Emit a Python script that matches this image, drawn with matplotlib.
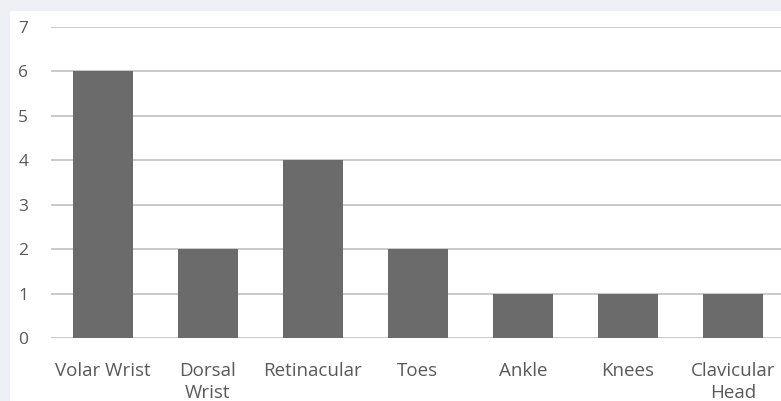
import matplotlib
matplotlib.use("Agg")
import matplotlib.pyplot as plt

categories = ["Volar Wrist", "Dorsal\nWrist", "Retinacular", "Toes", "Ankle", "Knees", "Clavicular\nHead"]
values = [6, 2, 4, 2, 1, 1, 1]
yticks = [0, 1, 2, 3, 4, 5, 6, 7]

W, H = 781, 401
fig = plt.figure(figsize=(W/100, H/100), dpi=100, facecolor="#eef0f6")
bg = fig.add_axes([10/W, 0, 1 - 10/W, 1 - 11/H], zorder=-5)
bg.set_axis_off()
bg.add_patch(plt.Rectangle((0, 0), 1, 1, transform=bg.transAxes, color="white"))

ax = fig.add_axes([50.5/W, (H-338)/H, 1 - 50.5/W, (338-27)/H])
ax.set_facecolor("none")
x = range(len(categories))
ax.bar(x, values, width=0.57, color="#6b6b6b", zorder=3)
ax.set_xlim(-0.5, 6.46)
ax.set_ylim(0, 7)
ax.set_yticks(yticks)
ax.yaxis.grid(True, color="#c9c9c9", linewidth=1.4)
ax.set_axisbelow(True)
for s in ax.spines.values():
    s.set_visible(False)
ax.set_xticks(list(x))
ax.set_xticklabels(categories, linespacing=1.3)
ax.tick_params(axis="both", length=0, colors="#595959")
ax.tick_params(axis="y", pad=16, labelsize=12.5)
ax.tick_params(axis="x", pad=17, labelsize=13.5)
for lbl in ax.get_xticklabels() + ax.get_yticklabels():
    lbl.set_family("Open Sans")
fig.savefig("out.png", dpi=100, facecolor=fig.get_facecolor())
